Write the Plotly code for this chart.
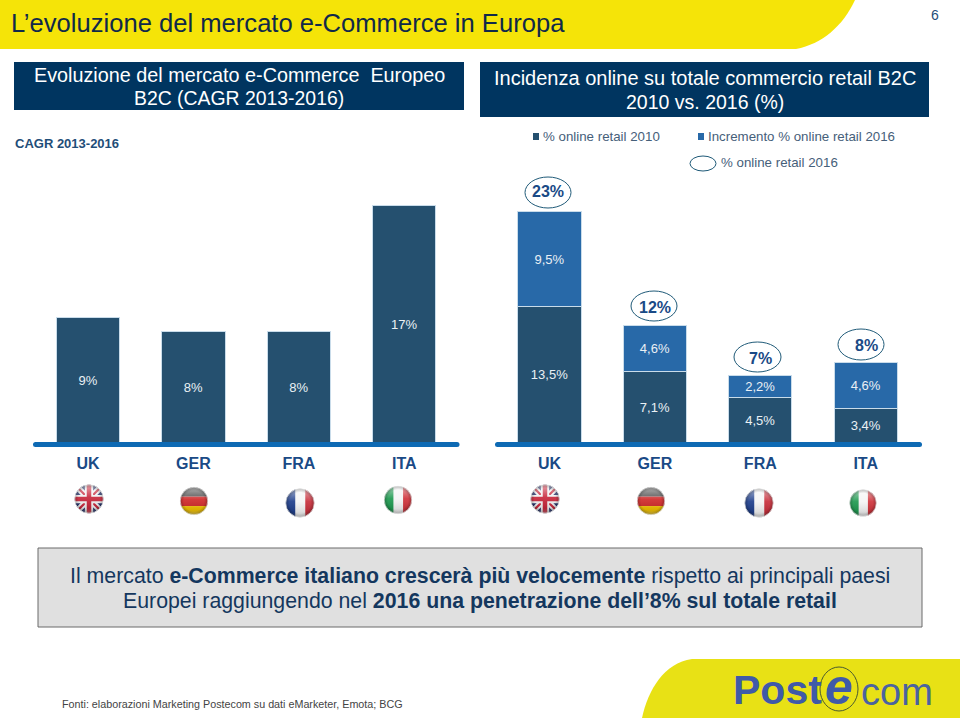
import base64
import plotly.graph_objects as go

countries = ["UK", "GER", "FRA", "ITA"]
cagr_2013_2016 = [9, 8, 8, 17]
online_2010 = [13.5, 7.1, 4.5, 3.4]
increment_2016 = [9.5, 4.6, 2.2, 4.6]
online_2016_labels = ["23%", "12%", "7%", "8%"]

DARK = "#25506f"
MID = "#2869a8"
EDGE = "#c9dcea"
NAVY = "#003560"
TEXT = "#1f4e79"
YELLOW = "#f5e408"
W, H = 960, 720


def px(x):
    return x / W


def py(y):
    return 1 - y / H


def pct(v):
    return f"{v:g}".replace(".", ",") + "%"


fig = go.Figure()
fig.add_bar(name="CAGR 2013-2016", x=countries, y=cagr_2013_2016,
            text=[pct(v) for v in cagr_2013_2016], xaxis="x", yaxis="y",
            marker=dict(color=DARK, line=dict(color=EDGE, width=1)))
fig.add_bar(name="% online retail 2010", x=countries, y=online_2010,
            text=[pct(v) for v in online_2010], xaxis="x2", yaxis="y2",
            marker=dict(color=DARK, line=dict(color=EDGE, width=1)))
fig.add_bar(name="Incremento % online retail 2016", x=countries, y=increment_2016,
            text=[pct(v) for v in increment_2016], xaxis="x2", yaxis="y2",
            marker=dict(color=MID, line=dict(color=EDGE, width=1)))
fig.update_traces(textposition="inside", insidetextanchor="middle", width=0.6,
                  textangle=0, constraintext="none",
                  textfont=dict(size=13, color="#eaf0f5", family="Liberation Sans"),
                  hoverinfo="skip")

shapes = []
annotations = []


def label(x, y, text, size, color, anchor="center", bold=False):
    annotations.append(dict(
        x=px(x), y=py(y), xref="paper", yref="paper", text=text, showarrow=False,
        xanchor=anchor, yanchor="middle", borderpad=0,
        font=dict(size=size, color=color, family="Liberation Sans",
                  weight="bold" if bold else "normal")))


def rect(x0, y0, x1, y1, fill, line=None, lw=0):
    shapes.append(dict(type="rect", xref="paper", yref="paper", x0=px(x0), x1=px(x1),
                       y0=py(y0), y1=py(y1), fillcolor=fill, layer="below",
                       line=dict(color=line or fill, width=lw)))


def ellipse(x0, y0, x1, y1, color="#1f5a78", fill="rgba(0,0,0,0)", lw=1):
    shapes.append(dict(type="circle", xref="paper", yref="paper", x0=px(x0), x1=px(x1),
                       y0=py(y0), y1=py(y1), fillcolor=fill, layer="above",
                       line=dict(color=color, width=lw)))


def path(d, fill, layer="below"):
    shapes.append(dict(type="path", path=d, xref="paper", yref="paper", fillcolor=fill,
                       layer=layer, line=dict(width=0)))


# top banner
path(f"M {px(0)} {py(0)} L {px(855)} {py(0)} "
     f"C {px(843)} {py(26)} {px(822)} {py(44)} {px(796)} {py(49)} L {px(0)} {py(49)} Z", YELLOW)
label(10, 23, "L’evoluzione del mercato e-Commerce in Europa", 25.6, "#10294a", anchor="left")
label(935, 15, "6", 14, TEXT)

# section headers
rect(14, 62, 464, 110, NAVY)
rect(480, 62, 929, 117, NAVY)
label(239, 75, "Evoluzione del mercato e-Commerce  Europeo", 19.8, "white")
label(239, 98, "B2C (CAGR 2013-2016)", 19.4, "white")
label(705, 78, "Incidenza online su totale commercio retail B2C", 20, "white")
label(705, 102, "2010 vs. 2016 (%)", 19.5, "white")

# left caption and custom legend
label(14, 144, "CAGR 2013-2016", 13, TEXT, anchor="left", bold=True)
rect(533, 133, 539, 140, DARK)
label(542, 136, "% online retail 2010", 13.3, "#46607a", anchor="left")
rect(698, 133, 704, 140, MID)
label(707, 136, "Incremento % online retail 2016", 13.3, "#46607a", anchor="left")
ellipse(690, 156, 716, 171)
label(720, 163, "% online retail 2016", 13.3, "#46607a", anchor="left")

# 2016 ellipses
bubble_boxes = [(525, 177, 571, 208), (631, 291, 677, 321), (734, 342, 781, 372), (838, 329, 884, 360)]
bubble_text = [(548, 192), (655, 307), (760, 358), (866, 345)]
for b, t, s in zip(bubble_boxes, bubble_text, online_2016_labels):
    ellipse(*b)
    label(t[0], t[1], s, 16, "#1a4a86", bold=True)


# rounded baselines
def baseline(x0, x1, y0=442, y1=447):
    r = (y1 - y0) / 2
    path(f"M {px(x0 + r)} {py(y0)} L {px(x1 - r)} {py(y0)} Q {px(x1)} {py(y0)} {px(x1)} {py(y0 + r)} "
         f"Q {px(x1)} {py(y1)} {px(x1 - r)} {py(y1)} L {px(x0 + r)} {py(y1)} "
         f"Q {px(x0)} {py(y1)} {px(x0)} {py(y0 + r)} Q {px(x0)} {py(y0)} {px(x0 + r)} {py(y0)} Z",
         "#0e6ab4", layer="above")


baseline(33, 459.5)
baseline(495, 922)

# message box
rect(38, 548, 922, 627, "#e0e0e0", "#6b6b6b", 1)
label(480, 576, "Il mercato <b>e-Commerce italiano crescerà più velocemente</b> rispetto ai principali paesi",
      21.3, "#14375e")
label(480, 601, "Europei raggiungendo nel <b>2016 una penetrazione dell’8% sul totale retail</b>", 21.3, "#14375e")

# footer
path(f"M {px(642)} {py(718)} C {px(648)} {py(690)} {px(664)} {py(663)} {px(692)} {py(659)} "
     f"L {px(960)} {py(659)} L {px(960)} {py(718)} Z", "#e8e115")
label(61, 704, "Fonti: elaborazioni Marketing Postecom su dati eMarketer, Emota; BCG", 10.75, "#444444", anchor="left")
BLUE = "#3f5aa8"
label(777, 690, "Post", 41, BLUE, bold=True)
ellipse(820, 667, 858, 711, color="#4a5a30", lw=1)
label(839, 687, "<i>e</i>", 50, BLUE, bold=True)
label(897, 692, "com", 38, "#4a63a0")


# flags
def flag_svg(kind):
    inner = {
        "UK": ('<rect width="40" height="40" fill="#27346f"/>'
               '<path d="M0 0L40 40M40 0L0 40" stroke="#f2f2f2" stroke-width="8"/>'
               '<path d="M0 0L40 40M40 0L0 40" stroke="#c8283c" stroke-width="3"/>'
               '<path d="M20 0V40M0 20H40" stroke="#f2f2f2" stroke-width="11"/>'
               '<path d="M20 0V40M0 20H40" stroke="#c8283c" stroke-width="6"/>'),
        "GER": ('<rect width="40" height="14" fill="#4a4a4a"/>'
                '<rect y="14" width="40" height="13" fill="#d02a2a"/>'
                '<rect y="27" width="40" height="13" fill="#f2c200"/>'),
        "FRA": ('<rect width="14" height="40" fill="#1f3f8c"/>'
                '<rect x="14" width="13" height="40" fill="#f4f4f4"/>'
                '<rect x="27" width="13" height="40" fill="#c8303c"/>'),
        "ITA": ('<rect width="14" height="40" fill="#1f9a50"/>'
                '<rect x="14" width="13" height="40" fill="#f4f4f4"/>'
                '<rect x="27" width="13" height="40" fill="#d0343c"/>'),
    }[kind]
    svg = ('<svg xmlns="http://www.w3.org/2000/svg" width="40" height="40" viewBox="0 0 40 40">'
           '<defs><clipPath id="c"><circle cx="20" cy="20" r="19"/></clipPath>'
           '<linearGradient id="g" x1="0" y1="0" x2="0" y2="1">'
           '<stop offset="0" stop-color="#fff" stop-opacity=".6"/>'
           '<stop offset=".45" stop-color="#fff" stop-opacity=".08"/>'
           '<stop offset=".8" stop-color="#000" stop-opacity=".1"/>'
           '<stop offset="1" stop-color="#fff" stop-opacity=".45"/></linearGradient>'
           '<radialGradient id="r"><stop offset=".7" stop-color="#000" stop-opacity="0"/>'
           '<stop offset="1" stop-color="#000" stop-opacity=".3"/></radialGradient></defs>'
           f'<g clip-path="url(#c)">{inner}<rect width="40" height="40" fill="url(#g)"/>'
           '<rect width="40" height="40" fill="url(#r)"/></g>'
           '<circle cx="20" cy="20" r="19" fill="none" stroke="#ddd" stroke-width="1"/></svg>')
    return "data:image/svg+xml;base64," + base64.b64encode(svg.encode()).decode()


flag_spots = [("UK", 89, 499, 15), ("GER", 194, 501, 14.5), ("FRA", 300, 503, 15), ("ITA", 398, 500, 14.5),
              ("UK", 545, 499, 15), ("GER", 651, 501, 14.5), ("FRA", 759, 503, 15), ("ITA", 863, 503, 14)]
images = [dict(source=flag_svg(k), xref="paper", yref="paper", x=px(x - r), y=py(y - r),
               sizex=2 * r / W, sizey=2 * r / H, xanchor="left", yanchor="top",
               sizing="stretch", layer="above") for k, x, y, r in flag_spots]

axis_common = dict(type="category", categoryorder="array", categoryarray=countries, showgrid=False,
                   zeroline=False, showline=False, ticks="outside", ticklen=6,
                   tickcolor="rgba(0,0,0,0)", range=[-0.5, 3.5],
                   tickfont=dict(size=16, color="#1a4a86", family="Liberation Sans", weight="bold"))
y_common = dict(showgrid=False, zeroline=False, showline=False, showticklabels=False, ticks="")
y_domain = [py(443), py(200)]

fig.update_layout(
    width=W, height=H, margin=dict(l=0, r=0, t=0, b=0), autosize=False,
    paper_bgcolor="white", plot_bgcolor="rgba(0,0,0,0)", showlegend=False, barmode="stack",
    xaxis=dict(domain=[px(35.3), px(457)], anchor="y", **axis_common),
    yaxis=dict(domain=y_domain, anchor="x", range=[0, 243 / 13.96], **y_common),
    xaxis2=dict(domain=[px(496.8), px(918.4)], anchor="y2", **axis_common),
    yaxis2=dict(domain=y_domain, anchor="x2", range=[0, 243 / 10.08], **y_common),
    shapes=shapes, annotations=annotations, images=images,
)

fig.write_html("out.html", config={"displayModeBar": False},
               post_script="document.body.style.margin='0';document.documentElement.style.overflow='hidden';")
